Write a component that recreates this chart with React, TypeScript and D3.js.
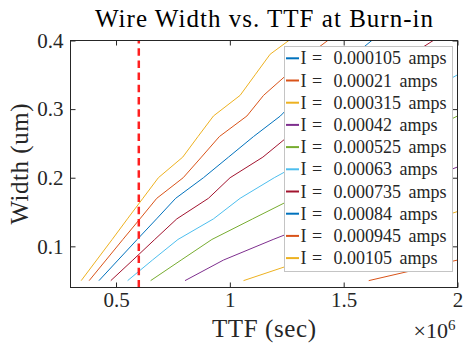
import { useRef, useEffect } from "react";
import * as d3 from "d3";

// wire widths (um) at which TTF was evaluated
const widths = [0.05, 0.08, 0.11, 0.14, 0.17, 0.2, 0.23, 0.26, 0.29, 0.32, 0.35, 0.38, 0.41];

const currentLabels = ["0.000105", "0.00021", "0.000315", "0.00042", "0.000525", "0.00063", "0.000735", "0.00084", "0.000945", "0.00105"];
const colors = ["#0072BD", "#D95319", "#EDB120", "#7E2F8E", "#77AC30", "#4DBEEE", "#A2142F", "#0072BD", "#D95319", "#EDB120"];

// TTF in units of 1e6 sec, one array per current, aligned with widths
const ttfI1 = [3.25, 3.95, 4.7];
const ttfI2 = [1.61, 2.0, 2.38];
const ttfI3 = [1.06, 1.33, 1.62, 1.9, 2.18];
const ttfI4 = [0.803, 0.972, 1.19, 1.42, 1.65, 1.88, 2.11];
const ttfI5 = [0.652, 0.786, 0.921, 1.1, 1.28, 1.46, 1.64, 1.82, 2.0, 2.18];
const ttfI6 = [0.551, 0.66, 0.772, 0.928, 1.045, 1.195, 1.36, 1.52, 1.68, 1.84, 2.0, 2.16];
const ttfI7 = [0.477, 0.574, 0.67, 0.767, 0.906, 1.001, 1.145, 1.255, 1.4, 1.52, 1.66, 1.8, 1.94];
const ttfI8 = [0.425, 0.509, 0.593, 0.678, 0.762, 0.884, 0.994, 1.104, 1.222, 1.31, 1.42, 1.55, 1.66];
const ttfI9 = [0.382, 0.456, 0.53, 0.605, 0.679, 0.795, 0.875, 0.954, 1.075, 1.148, 1.25, 1.35, 1.47];
const ttfI10 = [0.347, 0.415, 0.483, 0.55, 0.618, 0.686, 0.793, 0.86, 0.928, 1.045, 1.111, 1.177, 1.3];
const ttfSeries = [ttfI1, ttfI2, ttfI3, ttfI4, ttfI5, ttfI6, ttfI7, ttfI8, ttfI9, ttfI10];

const xTicks = [0.5e6, 1e6, 1.5e6, 2e6];
const yTicks = [0.1, 0.2, 0.3, 0.4];
const burnInTTF = 0.6e6;

const FONT = "Liberation Serif, DejaVu Serif, serif";
const INK = "#262626";

export default function App() {
  const svgRef = useRef<SVGSVGElement>(null);

  useEffect(() => {
    if (!svgRef.current) return;
    const svg = d3.select(svgRef.current);
    svg.selectAll("*").remove();

    const W = 464, H = 346;
    const m = { top: 40.5, right: 6.5, bottom: 58.5, left: 70.5 };
    const x = d3.scaleLinear().domain([0.3e6, 2e6]).range([m.left, W - m.right]);
    const y = d3.scaleLinear().domain([0.04, 0.4]).range([H - m.bottom, m.top]);

    svg.append("defs").append("clipPath").attr("id", "plot-clip")
      .append("rect")
      .attr("x", m.left).attr("y", m.top)
      .attr("width", W - m.left - m.right).attr("height", H - m.top - m.bottom);

    // data lines
    const line = d3.line<[number, number]>().x(d => x(d[0] * 1e6)).y(d => y(d[1]));
    const lines = svg.append("g").attr("clip-path", "url(#plot-clip)");
    ttfSeries.forEach((s, i) => {
      const pts = s.map((t, k) => [t, widths[k]] as [number, number]);
      lines.append("path").attr("d", line(pts)).attr("fill", "none")
        .attr("stroke", colors[i]).attr("stroke-width", 1);
    });

    // burn-in marker
    lines.append("line")
      .attr("x1", x(burnInTTF)).attr("x2", x(burnInTTF))
      .attr("y1", y(0.04)).attr("y2", y(0.4))
      .attr("stroke", "#ff2020").attr("stroke-width", 2.5)
      .attr("stroke-dasharray", "7.5,4.7");

    // axes, ticks inward on all four sides
    const styleAxis = (gEl: d3.Selection<SVGGElement, unknown, null, undefined>) => {
      gEl.attr("font-family", FONT);
      gEl.select(".domain").remove();
      gEl.selectAll("line").attr("stroke", INK);
      gEl.selectAll("text").attr("fill", INK).style("font-family", FONT).attr("font-size", 21);
    };
    svg.append("g").attr("transform", `translate(0,${H - m.bottom})`)
      .call(d3.axisBottom(x).tickValues(xTicks).tickSize(-5).tickSizeOuter(0).tickPadding(5).tickFormat(d => d3.format("~g")((d as number) / 1e6)))
      .call(styleAxis);
    svg.append("g").attr("transform", `translate(0,${m.top})`)
      .call(d3.axisTop(x).tickValues(xTicks).tickSize(-5).tickSizeOuter(0).tickFormat(() => ""))
      .call(styleAxis);
    svg.append("g").attr("transform", `translate(${m.left},0)`)
      .call(d3.axisLeft(y).tickValues(yTicks).tickSize(-5).tickSizeOuter(0).tickPadding(7).tickFormat(d3.format(".1f")))
      .call(styleAxis);
    svg.append("g").attr("transform", `translate(${W - m.right},0)`)
      .call(d3.axisRight(y).tickValues(yTicks).tickSize(-5).tickSizeOuter(0).tickFormat(() => ""))
      .call(styleAxis);
    svg.append("rect")
      .attr("x", m.left).attr("y", m.top)
      .attr("width", W - m.left - m.right).attr("height", H - m.top - m.bottom)
      .attr("fill", "none").attr("stroke", INK).attr("stroke-width", 1);

    // exponent
    const ex = svg.append("text").attr("x", 413.5).attr("y", 338).attr("fill", INK)
      .style("font-family", FONT).attr("font-size", 22);
    ex.append("tspan").text("×10");
    ex.append("tspan").attr("font-size", 15).attr("dy", -8).text("6");

    // titles
    svg.append("text").attr("x", (m.left + W - m.right) / 2).attr("y", 26.5)
      .attr("text-anchor", "middle").style("font-family", FONT).attr("font-size", 25)
      .attr("fill", "#000").attr("textLength", 338).attr("lengthAdjust", "spacing")
      .text("Wire Width vs. TTF at Burn-in");
    svg.append("text").attr("x", (m.left + W - m.right) / 2).attr("y", 337)
      .attr("text-anchor", "middle").style("font-family", FONT).attr("font-size", 25)
      .attr("fill", INK).attr("textLength", 104).attr("lengthAdjust", "spacing")
      .text("TTF (sec)");
    svg.append("text")
      .attr("transform", `translate(28,${(m.top + H - m.bottom) / 2}) rotate(-90)`)
      .attr("text-anchor", "middle").style("font-family", FONT).attr("font-size", 25)
      .attr("fill", INK).attr("textLength", 121).attr("lengthAdjust", "spacing")
      .text("Width (um)");

    // legend
    const lg = svg.append("g").attr("transform", "translate(284.5,46.5)");
    lg.append("rect").attr("width", 168).attr("height", 225)
      .attr("fill", "#fff").attr("stroke", "#c4c4c4").attr("stroke-width", 1);
    currentLabels.forEach((lab, i) => {
      const cy = 11.8 + i * 22.2;
      lg.append("line").attr("x1", 1.5).attr("x2", 14.5).attr("y1", cy).attr("y2", cy)
        .attr("stroke", colors[i]).attr("stroke-width", 2);
      const t = lg.append("text").attr("y", cy + 6).attr("fill", INK)
        .style("font-family", FONT).attr("font-size", 18);
      t.append("tspan").attr("x", 16).text("I");
      t.append("tspan").attr("x", 27.5).text("=");
      t.append("tspan").attr("x", 49).attr("word-spacing", 3).text(`${lab} amps`);
    });
  }, []);

  return (
    <svg ref={svgRef} width={464} height={346}
      style={{ position: "absolute", left: 0, top: 0, background: "#fff" }} />
  );
}
